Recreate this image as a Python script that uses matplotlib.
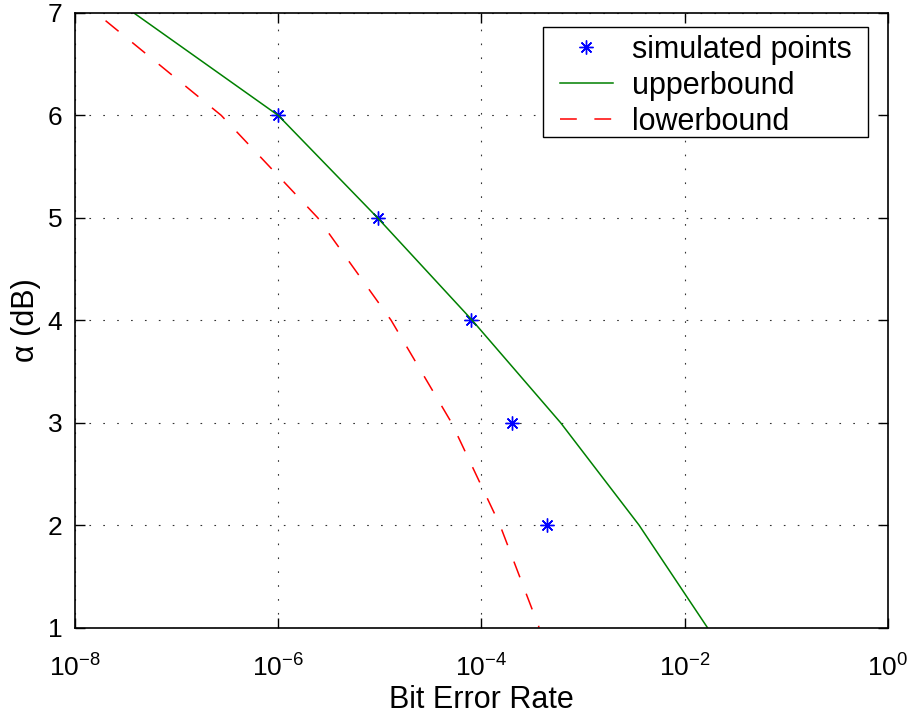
import matplotlib
matplotlib.use("Agg")
import matplotlib.pyplot as plt
from matplotlib.patches import Rectangle
from matplotlib.ticker import NullLocator, FixedLocator

plt.rcParams['font.family'] = ['Liberation Sans', 'DejaVu Sans']
plt.rcParams['mathtext.fontset'] = 'custom'
plt.rcParams['mathtext.rm'] = 'Liberation Sans'
plt.rcParams['mathtext.it'] = 'Liberation Sans:italic'
plt.rcParams['mathtext.default'] = 'regular'

# simulated points
sim_ber = [1.0e-6, 9.5e-6, 7.9e-5, 2.0e-4, 4.4e-4]
sim_alpha = [6, 5, 4, 3, 2]

# upperbound curve
ub_ber = [3.8e-8, 1.0e-6, 9.5e-6, 8.1e-5, 6.0e-4, 3.55e-3, 1.67e-2]
ub_alpha = [7, 6, 5, 4, 3, 2, 1]

# lowerbound curve
lb_ber = [2.0e-8, 2.75e-7, 2.45e-6, 1.29e-5, 5.07e-5, 1.52e-4, 3.69e-4]
lb_alpha = [6.925, 6, 5, 4, 3, 2, 1]

fig = plt.figure(figsize=(9.1, 7.17), dpi=100)
ax = fig.add_axes([0.0824, 0.1248, 0.8934, 0.8571])

ax.plot(sim_ber, sim_alpha, linestyle='none', marker=(8, 2, 0), color='blue',
        markersize=10, markeredgewidth=1.0, label='simulated points')
ax.plot(ub_ber, ub_alpha, color=(0, 0.5, 0), linewidth=1.1, label='upperbound')
ax.plot(lb_ber, lb_alpha, color='red', linestyle=(0, (11, 11.5)), linewidth=1.1,
        label='lowerbound')

ax.set_xscale('log')
ax.set_xlim(1e-8, 1)
ax.set_ylim(1, 7)
ax.xaxis.set_major_locator(FixedLocator([1e-8, 1e-6, 1e-4, 1e-2, 1]))
ax.xaxis.set_minor_locator(NullLocator())
ax.set_yticks([1, 2, 3, 4, 5, 6, 7])

ax.grid(True, color='#333333', linestyle=(0, (1.5, 11)), linewidth=0.8)
ax.tick_params(direction='in', top=True, right=True, length=7, width=1,
               labelsize=19)
ax.tick_params(axis='x', pad=19)
ax.tick_params(axis='y', pad=9)
for s in ax.spines.values():
    s.set_linewidth(1.2)

ax.set_xlabel('Bit Error Rate', fontsize=22, labelpad=3)
ax.set_ylabel('α (dB)', fontsize=22, labelpad=5)

# legend box drawn separately so it can be tighter vertically
box = Rectangle((0.5753, 0.7977), 0.4005, 0.179, transform=ax.transAxes,
                facecolor='white', edgecolor='black', linewidth=1.0, zorder=4)
ax.add_patch(box)
leg = ax.legend(loc='center', bbox_to_anchor=(0.7758, 0.8815),
                fontsize=22, frameon=False, borderpad=0,
                labelspacing=0.19, handlelength=1.75, handletextpad=0.62,
                borderaxespad=0)
leg.set_zorder(5)

fig.savefig('out.png', dpi=100)
